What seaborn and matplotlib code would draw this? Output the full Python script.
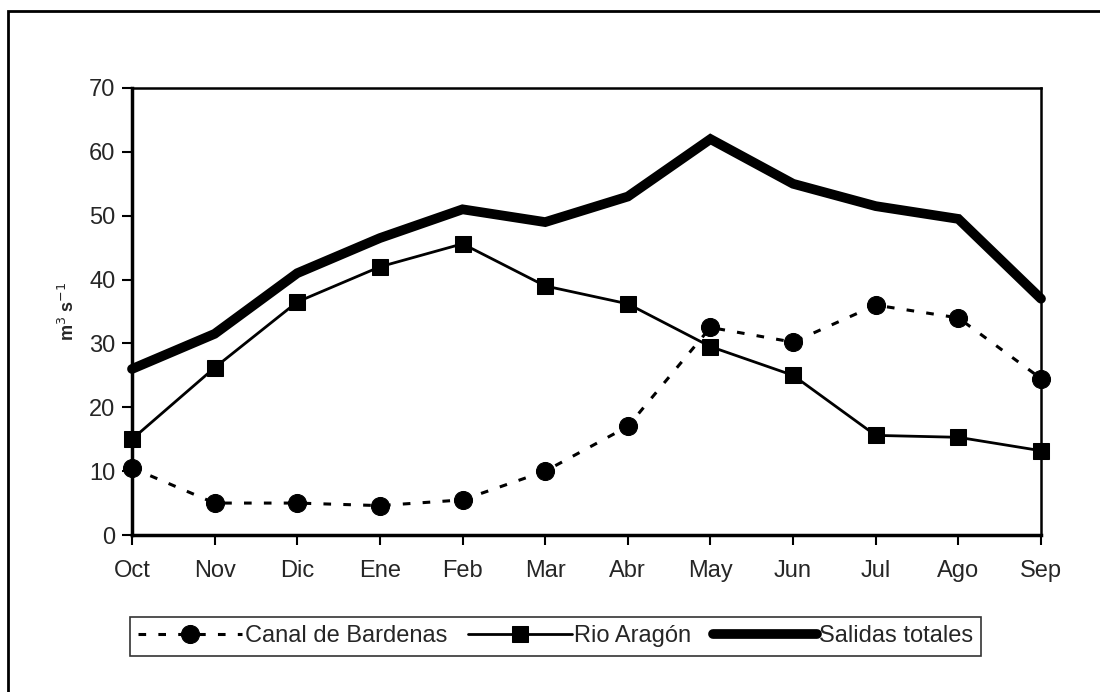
import matplotlib
matplotlib.use("Agg")
import matplotlib.pyplot as plt
from matplotlib.patches import Rectangle
import seaborn as sns
import pandas as pd

months = ["Oct", "Nov", "Dic", "Ene", "Feb", "Mar", "Abr", "May", "Jun", "Jul", "Ago", "Sep"]
canal_bardenas = [10.5, 5.0, 5.0, 4.6, 5.5, 10.0, 17.0, 32.5, 30.2, 36.0, 34.0, 24.5]
rio_aragon = [15.0, 26.2, 36.5, 42.0, 45.6, 39.0, 36.2, 29.5, 25.0, 15.6, 15.3, 13.2]
salidas_totales = [26.0, 31.5, 41.0, 46.5, 51.0, 49.0, 53.0, 62.0, 55.0, 51.5, 49.5, 37.0]

df = pd.DataFrame({
    "mes": list(range(len(months))) * 3,
    "valor": canal_bardenas + rio_aragon + salidas_totales,
    "serie": ["Canal de Bardenas"] * 12 + ["Rio Aragón"] * 12 + ["Salidas totales"] * 12,
})

sns.set_style("white")
plt.rcParams["font.family"] = ["Liberation Sans", "DejaVu Sans"]

fig = plt.figure(figsize=(11, 6.92), dpi=100)
ax = fig.add_axes([132 / 1100, 1 - 535 / 692, (1041 - 132) / 1100, (535 - 88) / 692])

styles = {
    "Canal de Bardenas": dict(ls=(0, (2.5, 4)), lw=2.2, marker="o", ms=13),
    "Rio Aragón": dict(ls="-", lw=2.0, marker="s", ms=12),
    "Salidas totales": dict(ls="-", lw=7.0, marker=None, ms=0),
}
for name, st in styles.items():
    sub = df[df["serie"] == name]
    sns.lineplot(data=sub, x="mes", y="valor", ax=ax, color="black",
                 linestyle=st["ls"], linewidth=st["lw"], marker=st["marker"],
                 markersize=st["ms"], markeredgecolor="black", label=name,
                 solid_joinstyle="miter", clip_on=False, zorder=3)

ax.set_xlim(0, 11)
ax.set_ylim(0, 70)
ax.set_xticks(range(len(months)))
ax.set_xticklabels(months)
ax.set_yticks(range(0, 71, 10))
ax.tick_params(axis="both", direction="out", length=7, width=1.5, color="black",
               labelsize=17, pad=5, bottom=True, left=True)
ax.tick_params(axis="x", pad=11)
for s in ["left", "bottom"]:
    ax.spines[s].set_linewidth(2.5)
    ax.spines[s].set_color("black")
for s in ["top", "right"]:
    ax.spines[s].set_linewidth(1.8)
    ax.spines[s].set_color("black")
ax.set_xlabel("")
ax.set_ylabel("m$^3$ s$^{-1}$", fontsize=13, fontweight="bold", labelpad=8)

leg = ax.legend(loc="upper left", bbox_to_anchor=(130 / 1100, 1 - 617 / 692),
                bbox_transform=fig.transFigure, ncol=3, frameon=True, fancybox=False,
                fontsize=17, handlelength=4.4, handletextpad=0.1, columnspacing=0.9,
                borderpad=0.35, borderaxespad=0)
leg.get_frame().set_edgecolor("black")
leg.get_frame().set_linewidth(1.2)

fig.patches.append(Rectangle((8 / 1100, -0.2), 1.2, 1.2 - 11 / 692, transform=fig.transFigure,
                             fill=False, edgecolor="black", linewidth=2, clip_on=False))

fig.savefig("out.png", dpi=100)
